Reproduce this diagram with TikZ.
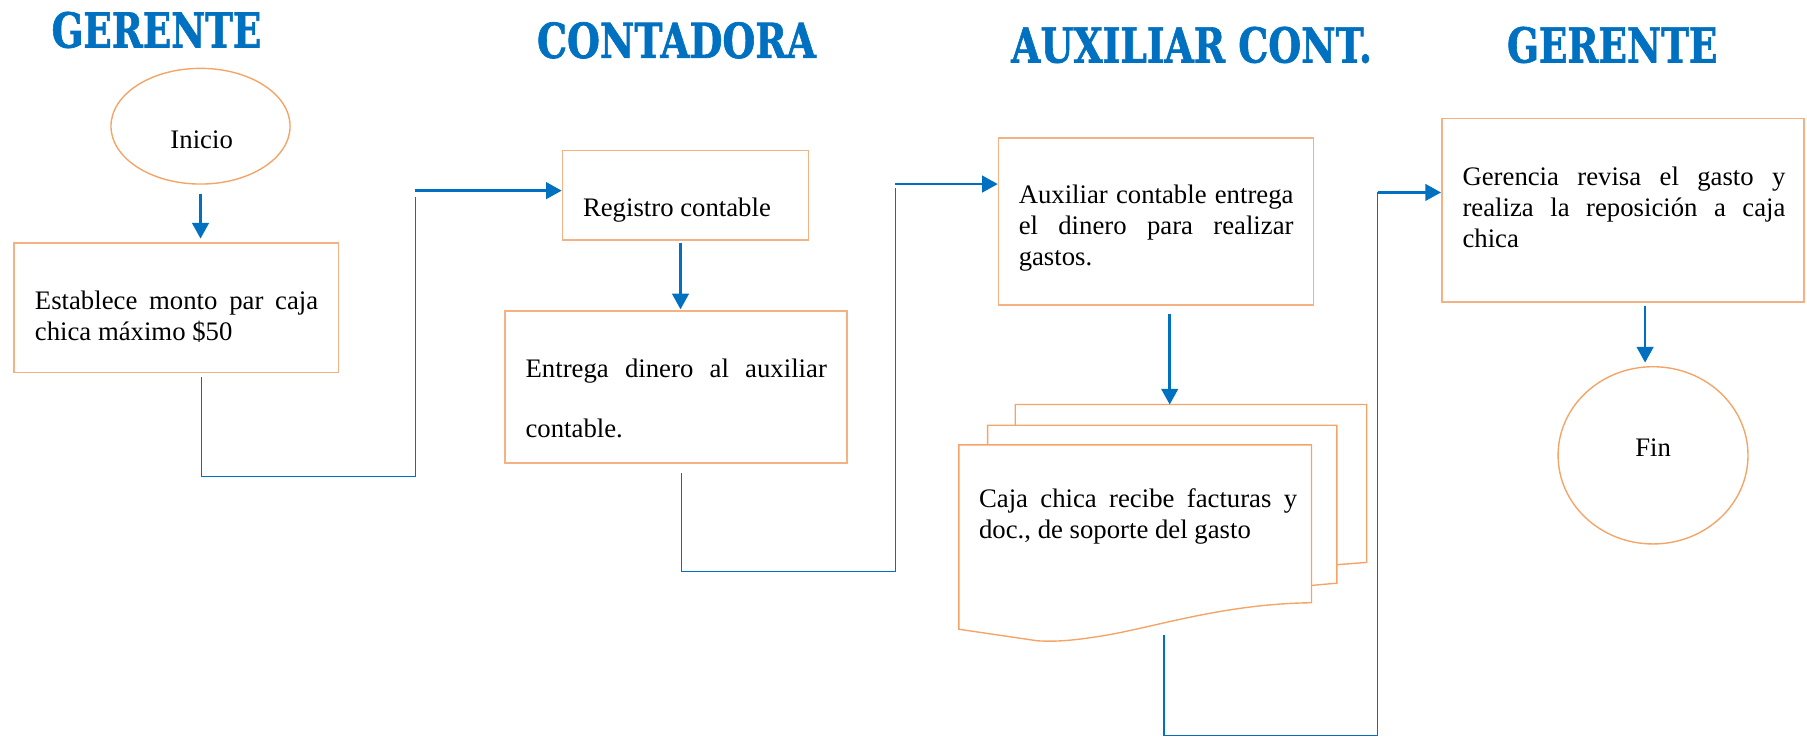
\documentclass[tikz,border=0pt]{standalone}
\usepackage{fontspec}
\usepackage{graphicx}
\setmainfont{Liberation Serif}
\newfontfamily\titlefont[BoldFeatures={FakeBold=1.5}]{DejaVu Serif}
\usetikzlibrary{arrows.meta,shapes.geometric}
\definecolor{lblue}{HTML}{0070C0}
\definecolor{borange}{HTML}{F4B183}
\definecolor{eorange}{HTML}{F4A466}
\begin{document}
\begin{tikzpicture}[x=0.5pt,y=-0.5pt,
  procbox/.style={draw=borange, line width=0.7pt, inner sep=0pt, rectangle},
  ovalnode/.style={draw=eorange, line width=0.6pt, ellipse, inner sep=0pt},
  pageline/.style={draw=eorange, line width=0.6pt, line join=miter},
  txt/.style={inner sep=0pt, font=\fontsize{11.6}{13.4}\selectfont, align=left, anchor=north west},
  ttl/.style={inner sep=0pt, text=lblue},
  flowarrow/.style={draw=lblue, line width=1.1pt, -{Triangle[length=6.8pt,width=7.2pt]}},
  thinline/.style={draw=lblue, line width=0.5pt},
]
\useasboundingbox (0,0) rectangle (1568,639);

% titles
\node[ttl] (h1) at (135.8,26) {\resizebox{91pt}{15.5pt}{\titlefont\bfseries GERENTE}};
\node[ttl] (h2) at (587,35) {\resizebox{121pt}{15.5pt}{\titlefont\bfseries CONTADORA}};
\node[ttl] (h3) at (1034,39) {\resizebox{156.5pt}{15.5pt}{\titlefont\bfseries AUXILIAR CONT.}};
\node[ttl] (h4) at (1399,39) {\resizebox{91.3pt}{15.5pt}{\titlefont\bfseries GERENTE}};

% shapes
\node[ovalnode, minimum width=77.7pt, minimum height=50.2pt] (inicio) at (174,109.5) {};
\node[txt, anchor=base] (inicioT) at (175,128.7) {Inicio};

\node[procbox, minimum width=140.6pt, minimum height=56.2pt] (b1) at (153,266.9) {};
\node[txt] (t1) at (29.9,249.6) {\strut\makebox[122.9pt][s]{Establece monto par caja}\\chica máximo \$50};

\node[procbox, minimum width=106.7pt, minimum height=38.8pt] (b2) at (594.8,169.5) {};
\node[txt, anchor=base west] (t2) at (505.5,188) {Registro contable};

\node[procbox, minimum width=148.3pt, minimum height=65.8pt] (b3) at (586.4,335.7) {};
\node[txt] (t3) at (455.7,308.1) {\strut\makebox[130.7pt][s]{Entrega dinero al auxiliar}\\[12.9pt]contable.};

\node[procbox, minimum width=136.6pt, minimum height=72.6pt] (b4) at (1003.1,192.1) {};
\node[txt] (t4) at (883.6,157.6) {\strut\makebox[119.2pt][s]{Auxiliar contable entrega}\\\makebox[119.2pt][s]{el dinero para realizar}\\gastos.};

\node[procbox, minimum width=157.2pt, minimum height=79.6pt] (b5) at (1408.3,182.4) {};
\node[txt] (t5) at (1268.7,141.7) {\strut\makebox[140.1pt][s]{Gerencia revisa el gasto y}\\\makebox[140.1pt][s]{realiza la reposición a caja}\\chica};

\node[ovalnode, minimum width=82.4pt, minimum height=76.9pt] (fin) at (1434.4,395.1) {};
\node[txt, anchor=base] (finT) at (1434.5,396.3) {Fin};

% multi-document
\draw[pageline] (881,369) -- (881,351) -- (1186,351) -- (1186,488) -- (1160,490);
\draw[pageline] (857,386) -- (857,369) -- (1160,369) -- (1160,506) -- (1138,508);
\draw[pageline] (832,386) -- (1138,386) -- (1138,523) .. controls (1060,524) and (1000,545) .. (955,552) .. controls (930,556) and (915,557) .. (900,556) -- (832,546) -- cycle;
\node[txt] (t6) at (849.2,421.4) {\strut\makebox[138pt][s]{Caja chica recibe facturas y}\\doc., de soporte del gasto};

% connector coordinates
\coordinate (k1) at (174.7,413.3);
\coordinate (c2a) at (360.2,170.7);
\coordinate (c2b) at (360.2,165.4);
\coordinate (k3) at (590.5,211.2);
\coordinate (k4) at (591,496);
\coordinate (c4a) at (776.8,163.4);
\coordinate (c4b) at (776.8,159.7);
\coordinate (docTop) at (1015,351);
\coordinate (docBot) at (1010,551);
\coordinate (k6) at (1010,638);
\coordinate (c6a) at (1195.5,167);
\coordinate (k7) at (1427.5,265.3);

% connectors
\draw[flowarrow, shorten <=4pt, shorten >=1.5pt] (inicio.south) -- (inicio.south |- b1.north);

\draw[thinline, shorten <=1.6pt] (b1.south -| k1) -- (k1) -- (k1 -| c2a) -- (c2a);
\draw[flowarrow] (c2b) -- (c2b -| b2.west);

\draw[flowarrow, shorten >=0.4pt] (k3) -- (k3 |- b3.north);

\draw[thinline, shorten <=4.2pt] (b3.south -| k4) -- (k4) -- (k4 -| c4a) -- (c4a);
\draw[flowarrow] (c4b) -- (c4b -| b4.west);

\draw[flowarrow, shorten <=3.6pt] (b4.south -| docTop) -- (docTop);

\draw[thinline] (docBot) -- (k6) -- (k6 -| c6a) -- (c6a);
\draw[flowarrow] (c6a) -- (c6a -| b5.west);

\draw[flowarrow, shorten >=1.5pt] (k7) -- (k7 |- fin.north);
\end{tikzpicture}
\end{document}
